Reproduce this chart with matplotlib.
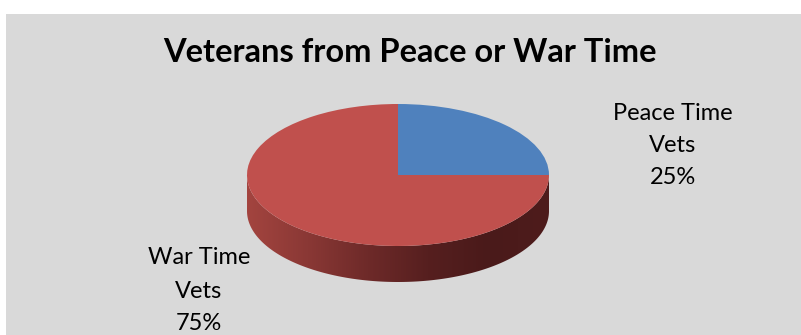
import numpy as np
import matplotlib
matplotlib.use("Agg")
import matplotlib.pyplot as plt
from matplotlib.patches import Rectangle, Polygon
from matplotlib.colors import LinearSegmentedColormap

# data
categories = ["Peace Time Vets", "War Time Vets"]
values = [25, 75]
colors = ["#4F81BD", "#C0504D"]
title = "Veterans from Peace or War Time"

W, H = 801, 335
plt.rcParams['font.family'] = ['Lato', 'DejaVu Sans']

fig = plt.figure(figsize=(W / 100, H / 100), dpi=100)
fig.patch.set_facecolor("white")

# chart area background (white strip at left and top)
bg = fig.add_axes([0, 0, 1, 1])
bg.set_xlim(0, W)
bg.set_ylim(H, 0)
bg.axis("off")
bg.add_patch(Rectangle((6, 14), W - 6, H - 14, facecolor="#D9D9D9", edgecolor="none"))


def px_axes(left, top, width, height):
    return fig.add_axes([left / W, 1 - (top + height) / H, width / W, height / H])


# pie geometry in pixels
cx, cy = 398, 175
a, b, depth = 151, 71, 36
d = depth / b

ax = px_axes(cx - a, cy - b, 2 * a, 2 * b + depth)
wedges, _ = ax.pie(values, colors=colors, startangle=0, counterclock=True,
                   radius=1, wedgeprops=dict(linewidth=0, antialiased=True))
for w in wedges:
    w.set_zorder(3)
ax.set_aspect("auto")
ax.axis("off")

# side of the cylinder (front half) with shading
t = np.linspace(np.pi, 2 * np.pi, 200)
top_edge = np.column_stack([np.cos(t), np.sin(t)])
bot_edge = np.column_stack([np.cos(t[::-1]), np.sin(t[::-1]) - d])
side = Polygon(np.vstack([top_edge, bot_edge]), closed=True,
               facecolor="none", edgecolor="none", zorder=2)
ax.add_patch(side)
shade = LinearSegmentedColormap.from_list(
    "side", ["#A3443F", "#8A3835", "#6E2A29", "#561F1F", "#4A1A1A", "#4E1C1C"])
grad = np.linspace(0, 1, 256).reshape(1, -1)
im = ax.imshow(grad, cmap=shade, extent=(-1, 1, -1 - d, 0), aspect="auto",
               zorder=2, interpolation="bilinear")
im.set_clip_path(side)
ax.set_xlim(-1, 1)
ax.set_ylim(-1 - d, 1)

# title
bg.text(410, 52, title, ha="center", va="center", fontsize=23.5,
        fontweight="bold", color="black")

# data labels
total = sum(values)
label_pos = [(673, [113, 146, 177]), (199, [258, 291, 323])]
for name, v, (x, ys) in zip(categories, values, label_pos):
    words = name.split(" ")
    lines = [" ".join(words[:2]), " ".join(words[2:]), f"{v / total * 100:.0f}%"]
    for line, y in zip(lines, ys):
        bg.text(x, y, line, ha="center", va="center", fontsize=17, color="black")

fig.savefig("out.png", dpi=100, facecolor=fig.get_facecolor())
